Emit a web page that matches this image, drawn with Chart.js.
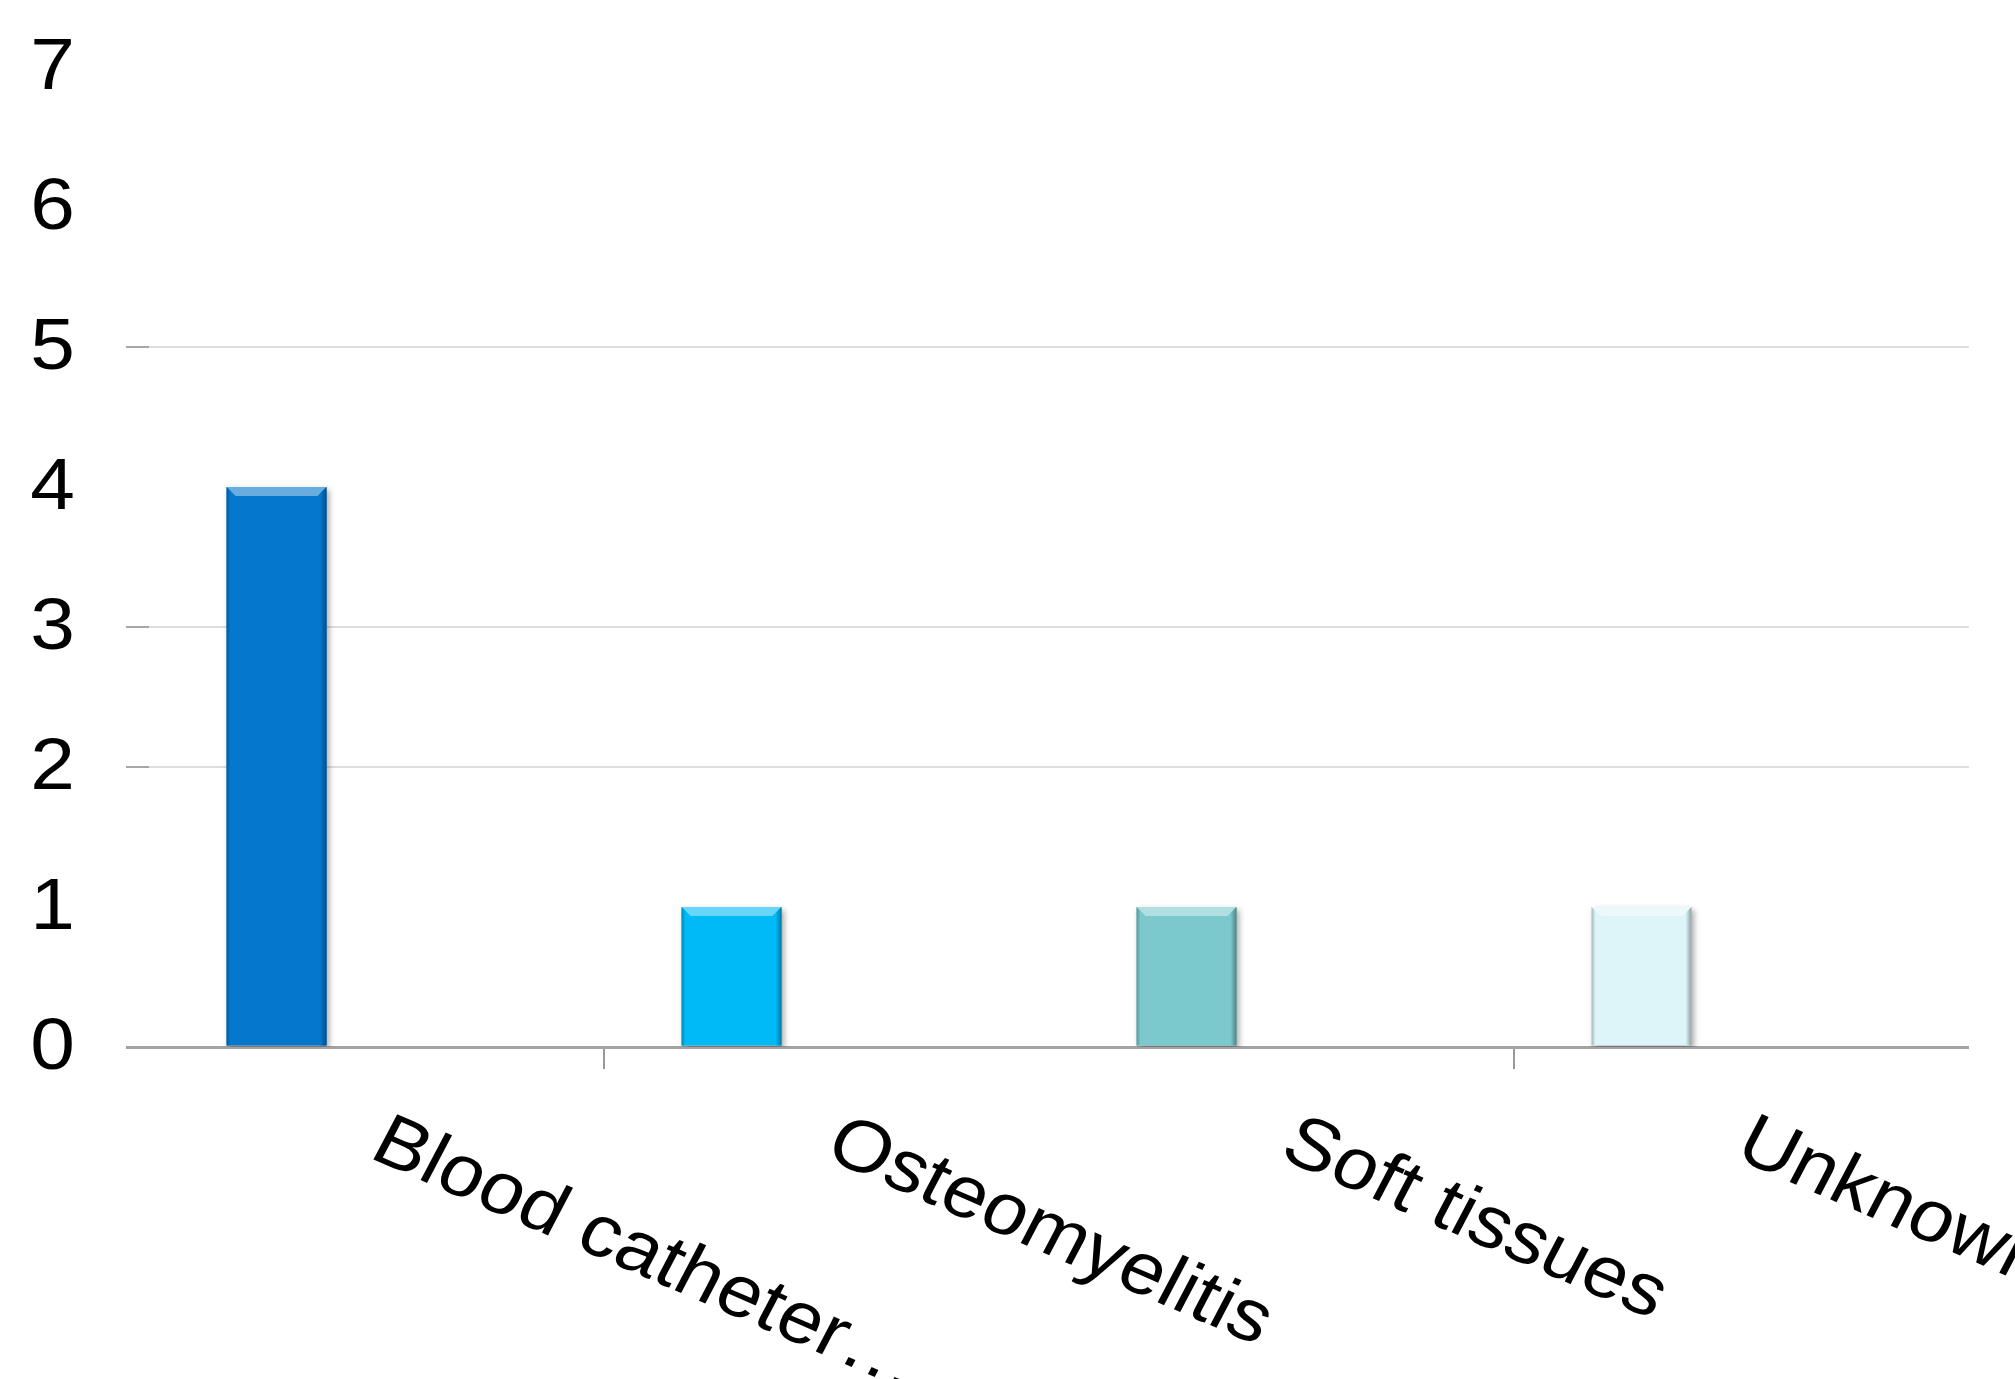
<!DOCTYPE html>
<html>
<head>
<meta charset="utf-8">
<title>Sites of infection</title>
<script src="https://cdn.jsdelivr.net/npm/chart.js@4.4.1/dist/chart.umd.min.js"></script>
<style>
  html, body { margin: 0; padding: 0; background: #ffffff; }
  #chart { display: block; }
</style>
</head>
<body>
<canvas id="chart" width="2015" height="1379"></canvas>
<script>
// Infection sites and number of cases
const categories = ['Blood catheter\u2026', 'Osteomyelitis', 'Soft tissues', 'Unknown'];
const counts = [4, 1, 1, 1];
// The workbook chart carries two further (empty) series, which keep the bars
// in the first slot of each category group.
const series2 = [null, null, null, null];
const series3 = [null, null, null, null];
const barColors = ['#0577CC', '#00BAF8', '#7BC8CD', '#DDF5F8'];
const yTicks = [0, 1, 2, 3, 4, 5, 6, 7];
const gridValues = [2, 3, 5];

const FONT = '"Liberation Sans", Arial, sans-serif';
const FONT_SIZE = 73;
const TEXT_STRETCH = 1.1;   // text is set slightly wide
const LABEL_ANGLE = 25.5;   // degrees, category labels slant downward

function mix(hex, target, amount) {
  const n = parseInt(hex.slice(1), 16);
  const r = (n >> 16) & 255, g = (n >> 8) & 255, b = n & 255;
  const t = target === 'white' ? 255 : 0;
  const m = c => Math.round(c + (t - c) * amount);
  return 'rgb(' + m(r) + ',' + m(g) + ',' + m(b) + ')';
}

// Soft drop shadow under the bars
const barShadow = {
  id: 'barShadow',
  beforeDatasetsDraw(chart) {
    const ctx = chart.ctx;
    ctx.save();
    ctx.shadowColor = 'rgba(0,0,0,0.35)';
    ctx.shadowBlur = 6;
    ctx.shadowOffsetX = 2;
    ctx.shadowOffsetY = 3;
  },
  afterDatasetsDraw(chart) {
    chart.ctx.restore();
  }
};

// Bevelled edges on each bar: light top chamfer, shaded sides
const barBevel = {
  id: 'barBevel',
  afterDatasetsDraw(chart) {
    const ctx = chart.ctx;
    const meta = chart.getDatasetMeta(0);
    meta.data.forEach((bar, i) => {
      const p = bar.getProps(['x', 'y', 'base', 'width'], true);
      if (p.y == null || isNaN(p.y)) return;
      const left = p.x - p.width / 2, right = p.x + p.width / 2;
      const top = p.y, bottom = p.base;
      const col = barColors[i];
      const b = 9;
      ctx.save();
      // top chamfer
      ctx.beginPath();
      ctx.moveTo(left, top);
      ctx.lineTo(right, top);
      ctx.lineTo(right - b, top + b);
      ctx.lineTo(left + b, top + b);
      ctx.closePath();
      ctx.fillStyle = mix(col, 'white', 0.4);
      ctx.fill();
      // right side shade
      const gr = ctx.createLinearGradient(right - 6, 0, right, 0);
      gr.addColorStop(0, mix(col, 'black', 0.0));
      gr.addColorStop(1, mix(col, 'black', 0.35));
      ctx.beginPath();
      ctx.moveTo(right, top);
      ctx.lineTo(right, bottom);
      ctx.lineTo(right - 6, bottom);
      ctx.lineTo(right - 6, top + 6);
      ctx.closePath();
      ctx.fillStyle = gr;
      ctx.fill();
      // left side shade
      const gl = ctx.createLinearGradient(left, 0, left + 4, 0);
      gl.addColorStop(0, mix(col, 'black', 0.25));
      gl.addColorStop(1, mix(col, 'black', 0.0));
      ctx.beginPath();
      ctx.moveTo(left, top);
      ctx.lineTo(left + 4, top + 4);
      ctx.lineTo(left + 4, bottom);
      ctx.lineTo(left, bottom);
      ctx.closePath();
      ctx.fillStyle = gl;
      ctx.fill();
      ctx.restore();
    });
  }
};

// Axis text: value labels on the left, slanted category labels below
const axisText = {
  id: 'axisText',
  afterDraw(chart) {
    const ctx = chart.ctx;
    const xs = chart.scales.x;
    const ys = chart.scales.y;
    ctx.save();
    ctx.font = FONT_SIZE + 'px ' + FONT;
    ctx.fillStyle = '#000000';

    ctx.textAlign = 'right';
    ctx.textBaseline = 'middle';
    ys.ticks.forEach(t => {
      const py = ys.getPixelForValue(t.value);
      ctx.save();
      ctx.translate(ys.right - 74, py + 2);
      ctx.scale(TEXT_STRETCH, 1);
      ctx.fillText(String(t.value), 0, 0);
      ctx.restore();
    });

    ctx.textAlign = 'left';
    ctx.textBaseline = 'alphabetic';
    categories.forEach((label, i) => {
      const cx = xs.getPixelForValue(i);
      ctx.save();
      ctx.translate(cx - 9, xs.top + 110);
      ctx.scale(TEXT_STRETCH, 1);
      ctx.rotate(LABEL_ANGLE * Math.PI / 180);
      ctx.fillText(label, 0, 0);
      ctx.restore();
    });
    ctx.restore();
  }
};

new Chart(document.getElementById('chart'), {
  type: 'bar',
  data: {
    labels: categories,
    datasets: [
      { label: 'Cases', data: counts, backgroundColor: barColors, borderWidth: 0 },
      { label: 'Series 2', data: series2, backgroundColor: '#999999' },
      { label: 'Series 3', data: series3, backgroundColor: '#999999' }
    ]
  },
  options: {
    responsive: false,
    animation: false,
    devicePixelRatio: 1,
    categoryPercentage: 0.659,
    barPercentage: 1,
    layout: { padding: { top: 67, right: 46, left: 0, bottom: 0 } },
    plugins: {
      legend: { display: false },
      tooltip: { enabled: false },
      title: { display: false }
    },
    scales: {
      x: {
        offset: true,
        border: { display: false },
        grid: {
          offset: true,
          drawOnChartArea: false,
          drawTicks: true,
          tickLength: 22,
          lineWidth: 2,
          tickColor: ctx => (ctx.index === 1 || ctx.index === 3) ? '#9a9a9a' : 'rgba(0,0,0,0)'
        },
        ticks: { display: false },
        afterFit(scale) { scale.height = 332; }
      },
      y: {
        min: yTicks[0],
        max: yTicks[yTicks.length - 1],
        border: { display: false },
        afterBuildTicks(scale) { scale.ticks = yTicks.map(v => ({ value: v })); },
        grid: {
          drawTicks: true,
          tickLength: 23,
          lineWidth: ctx => (ctx.tick && ctx.tick.value === 0) ? 3 : 2,
          color: ctx => {
            const v = ctx.tick ? ctx.tick.value : null;
            if (v === 0) return '#a3a3a3';
            return gridValues.includes(v) ? '#dedede' : 'rgba(0,0,0,0)';
          },
          tickColor: ctx => {
            const v = ctx.tick ? ctx.tick.value : null;
            if (v === 0) return '#a3a3a3';
            return gridValues.includes(v) ? '#a8a8a8' : 'rgba(0,0,0,0)';
          }
        },
        ticks: { display: false },
        afterFit(scale) { scale.width = 149; }
      }
    }
  },
  plugins: [barShadow, barBevel, axisText]
});
</script>
</body>
</html>
